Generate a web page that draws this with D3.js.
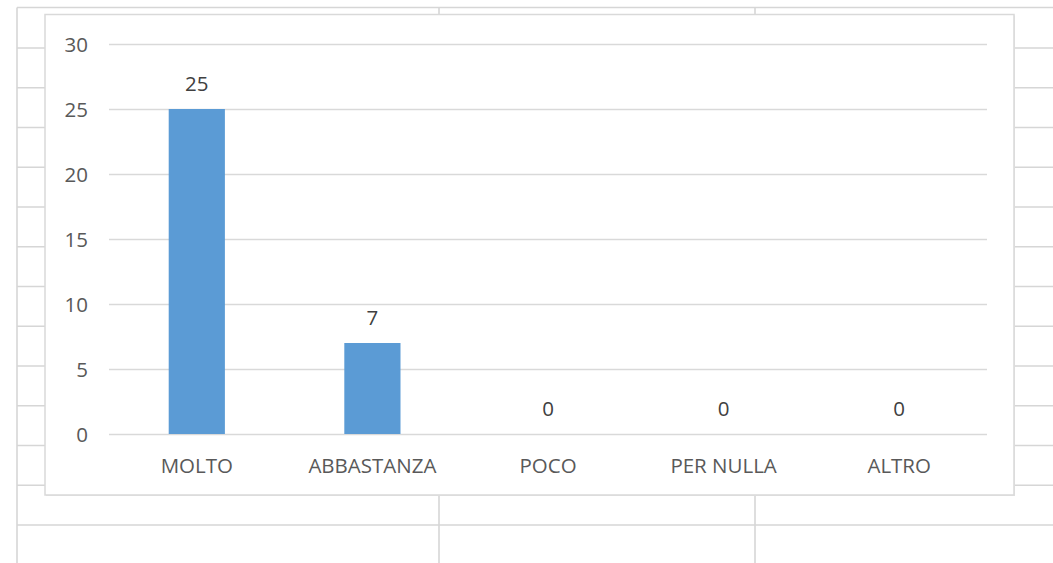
<!DOCTYPE html>
<html>
<head>
<meta charset="utf-8">
<script src="https://cdn.jsdelivr.net/npm/d3@7"></script>
<style>
  html, body { margin: 0; padding: 0; background: #ffffff; }
  svg { display: block; }
  text { font-family: "Open Sans", "Noto Sans", sans-serif; }
</style>
</head>
<body>
<script>
// ---- data ----
const categories = ["MOLTO", "ABBASTANZA", "POCO", "PER NULLA", "ALTRO"];
const values = [25, 7, 0, 0, 0];
const yTicks = [0, 5, 10, 15, 20, 25, 30];

// ---- layout ----
const W = 1053, H = 563;
const FS = 20.5;
const svg = d3.select("body").append("svg").attr("width", W).attr("height", H);

// spreadsheet cell grid in the background
const sheet = svg.append("g").attr("stroke", "#d6d6d6").attr("stroke-width", 1.6).attr("fill", "none");
sheet.append("line").attr("x1", 17).attr("x2", W).attr("y1", 7.5).attr("y2", 7.5);
[17, 439, 755].forEach(x => sheet.append("line").attr("x1", x).attr("x2", x).attr("y1", 7.5).attr("y2", H));
const rowYs = d3.range(13).map(i => 48 + i * (525 - 48) / 12);
rowYs.forEach(y => sheet.append("line").attr("x1", 17).attr("x2", W).attr("y1", y).attr("y2", y));

// chart box
const box = { x: 45, y: 14.5, w: 1014 - 45, h: 495 - 14.5 };
svg.append("rect").attr("x", box.x + 1).attr("y", box.y + 1).attr("width", box.w).attr("height", box.h)
  .attr("fill", "#e6e6e6");
svg.append("rect").attr("x", box.x).attr("y", box.y).attr("width", box.w).attr("height", box.h)
  .attr("fill", "#ffffff").attr("stroke", "#d9d9d9").attr("stroke-width", 1.5);

// plot area
const plot = { left: 109, right: 987, top: 44, bottom: 434 };
const x = d3.scaleBand().domain(categories).range([plot.left, plot.right]).paddingInner(0.68).paddingOuter(0.34);
const y = d3.scaleLinear().domain([0, 30]).range([plot.bottom, plot.top]);

// gridlines
const yAxis = d3.axisLeft(y).tickValues(yTicks).tickSize(-(plot.right - plot.left)).tickPadding(21);
const gy = svg.append("g").attr("transform", `translate(${plot.left},0)`).call(yAxis);
gy.select(".domain").remove();
gy.selectAll(".tick line").attr("stroke", "#d9d9d9").attr("stroke-width", 1.3);
gy.selectAll(".tick text").attr("fill", "#595959").attr("font-size", FS)
  .attr("font-family", "'Open Sans', sans-serif").attr("dy", "0.36em");

// bars
svg.append("g").selectAll("rect").data(values).join("rect")
  .attr("x", (d, i) => x(categories[i]))
  .attr("y", d => y(d))
  .attr("width", x.bandwidth())
  .attr("height", d => y(0) - y(d))
  .attr("fill", "#5b9bd5");

// data labels
svg.append("g").selectAll("text").data(values).join("text")
  .attr("x", (d, i) => x(categories[i]) + x.bandwidth() / 2)
  .attr("y", d => y(d) - 18)
  .attr("text-anchor", "middle")
  .attr("fill", "#404040")
  .attr("font-size", FS)
  .text(d => d);

// x axis labels
const xAxis = d3.axisBottom(x).tickSize(0).tickPadding(24);
const gx = svg.append("g").attr("transform", `translate(0,${plot.bottom})`).call(xAxis);
gx.select(".domain").remove();
gx.selectAll(".tick text").attr("fill", "#595959").attr("font-size", FS)
  .attr("font-family", "'Open Sans', sans-serif");
</script>
</body>
</html>
